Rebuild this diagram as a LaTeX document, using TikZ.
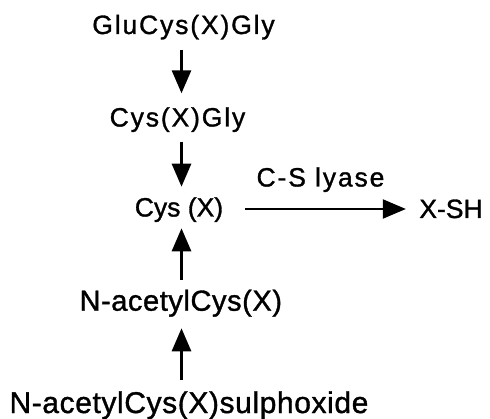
\documentclass[tikz,border=0pt]{standalone}
\usepackage{fontspec}
\setmainfont{Liberation Sans}[FakeBold=1.2]
\newfontfamily\trackedfont[LetterSpace=7,FakeBold=1.2]{Liberation Sans}
\newfontfamily\lighttrackfont[LetterSpace=2,FakeBold=1.2]{Liberation Sans}
\usetikzlibrary{arrows.meta,calc}
\begin{document}
\begin{tikzpicture}[x=1pt,y=1pt,
  lbl/.style={inner sep=0pt,anchor=base,font=\trackedfont\fontsize{26.5}{30}\selectfont},
  plainlbl/.style={inner sep=0pt,anchor=base,font=\fontsize{26.5}{30}\selectfont},
  lowlbl/.style={inner sep=0pt,anchor=base,font=\lighttrackfont\fontsize{29}{33}\selectfont},
  baselbl/.style={inner sep=0pt,anchor=base,font=\lighttrackfont\fontsize{30}{34}\selectfont},
  vflow/.style={line width=2.8pt,-{Triangle[length=23pt,width=19pt]}},
  hflow/.style={line width=2.2pt,-{Triangle[length=23pt,width=19pt]}}]
\useasboundingbox (0,0) rectangle (490,418);

% metabolites
\node[lbl]      (gcg)   at (183.5,384)  {GluCys(X)Gly};
\node[lbl]      (cg)    at (177.5,291.5) {Cys(X)Gly};
\node[plainlbl] (cx)    at (179,201.5)  {Cys (X)};
\node[plainlbl] (xsh)   at (451,200)    {X-SH};
\node[lbl]      (lyase) at (320.5,231.5) {C-S lyase};
\node[lowlbl]   (nac)   at (180.8,107.3) {N-acetylCys(X)};
\node[baselbl]  (nacso) at (189,5)      {N-acetylCys(X)sulphoxide};

\coordinate (col) at (181.5,0);

% conversion steps
\draw[vflow] ($(gcg.base -| col)+(0,-16)$) -- ($(cg.base -| col)+(0,33.2)$);
\draw[vflow] ($(cg.base -| col)+(0,-15.2)$) -- ($(cx.base -| col)+(0,29.8)$);
\draw[vflow] ($(nac.base -| col)+(0,30.7)$) -- ($(cx.base -| col)+(0,-11.8)$);
\draw[vflow] ($(nacso.base -| col)+(0,33)$) -- ($(nac.base -| col)+(0,-17.6)$);
\draw[hflow] ($(cx.base east)+(21.7,7.5)$) -- ($(xsh.base west)+(-13.3,9)$);
\end{tikzpicture}
\end{document}
